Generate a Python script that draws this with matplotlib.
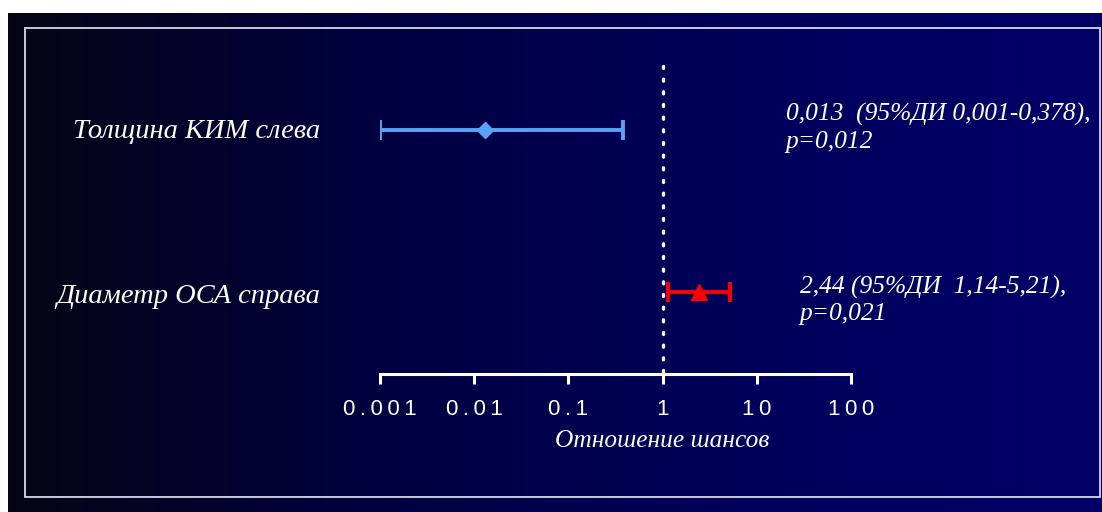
import numpy as np
import matplotlib.pyplot as plt
from matplotlib.colors import LinearSegmentedColormap
from matplotlib.patches import Rectangle
import matplotlib.transforms as mtransforms

# data (rows from bottom to top)
labels = ['Диаметр ОСА справа', 'Толщина КИМ слева']
odds = [2.44, 0.013]
ci_low = [1.14, 0.001]
ci_high = [5.21, 0.378]
notes = ['2,44 (95%ДИ  1,14-5,21),\np=0,021',
         '0,013  (95%ДИ 0,001-0,378),\np=0,012']
colors = ['#ff0000', '#5aa2f5']
markers = ['^', 'D']
ticks = [0.001, 0.01, 0.1, 1, 10, 100]
tick_labels = ['0.001', '0.01', '0.1', '1', '10', '100']

W, H = 1102, 512
fig = plt.figure(figsize=(W / 100, H / 100), dpi=100)
fig.patch.set_facecolor('white')

# gradient background
bg = fig.add_axes([8 / W, 0, 1 - 8 / W, 1 - 13 / H])
bg.set_axis_off()
cmap = LinearSegmentedColormap.from_list('bgc', ['#050514', '#000040', '#00005a', '#000068'])
grad = np.linspace(0, 1, 256).reshape(1, -1)
bg.imshow(grad, aspect='auto', cmap=cmap, extent=[0, 1, 0, 1])
bg.set_xlim(0, 1)
bg.set_ylim(0, 1)
bx0 = (25 - 8) / (W - 8)
bx1 = (1100 - 8) / (W - 8)
by0 = (512 - 497) / (H - 13)
by1 = (512 - 28) / (H - 13)
bg.add_patch(Rectangle((bx0, by0), bx1 - bx0, by1 - by0, fill=False,
                       edgecolor='#d8d8e8', linewidth=1.3))

# main axes: x from 380 px to 851 px, bottom spine at y=374 px
ax_bot, ax_top = 374, 60
ax = fig.add_axes([380 / W, (H - ax_bot) / H, (851 - 380) / W, (ax_bot - ax_top) / H])
ax.patch.set_alpha(0)
ax.set_xscale('log')
ax.set_xlim(0.001, 100)
ax.set_ylim(-0.506, 1.432)
for s in ['top', 'right', 'left']:
    ax.spines[s].set_visible(False)
ax.spines['bottom'].set_color('white')
ax.spines['bottom'].set_linewidth(2.2)
ax.set_yticks([])
ax.set_xticks(ticks)
ax.set_xticklabels(['\u2009'.join(t) for t in tick_labels],
                   fontfamily=['Liberation Sans', 'DejaVu Sans'],
                   fontsize=16, color='white')
ax.xaxis.set_minor_locator(plt.NullLocator())
ax.tick_params(axis='x', direction='out', length=7, width=2.2, color='white', pad=11)

ax.axvline(1, ymin=0.006, ymax=0.99, color='white', linestyle=(0, (0.6, 3.2)),
           linewidth=2.4, dash_capstyle='round')

for i in range(len(labels)):
    ax.errorbar(odds[i], i, xerr=[[odds[i] - ci_low[i]], [ci_high[i] - odds[i]]],
                fmt=markers[i], color=colors[i], ecolor=colors[i], elinewidth=2.8,
                capsize=7, capthick=2.8, markersize=11 if markers[i] == '^' else 8.5)

serif = ['Liberation Serif', 'DejaVu Serif']
trans_lab = mtransforms.blended_transform_factory(fig.transFigure, ax.transData)
label_dy = [-0.03, -0.012]
for i in range(len(labels)):
    ax.text(320 / W, i + label_dy[i], labels[i], transform=trans_lab, ha='right', va='center',
            fontfamily=serif, fontstyle='italic', fontsize=20.5, color='white')

note_x = [800, 786]
note_dy = [-0.05, 0.012]
for i in range(len(notes)):
    ax.text(note_x[i] / W, i + note_dy[i], notes[i], transform=trans_lab, ha='left',
            va='center', fontfamily=serif, fontstyle='italic', fontsize=18.4,
            color='white', linespacing=1.25)

trans_xl = mtransforms.blended_transform_factory(ax.transData, fig.transFigure)
ax.text(1, (H - 441) / H, 'Отношение шансов', transform=trans_xl, ha='center', va='center',
        fontfamily=serif, fontstyle='italic', fontsize=18.3, color='white')

fig.savefig('out.png', dpi=100, facecolor=fig.get_facecolor())
